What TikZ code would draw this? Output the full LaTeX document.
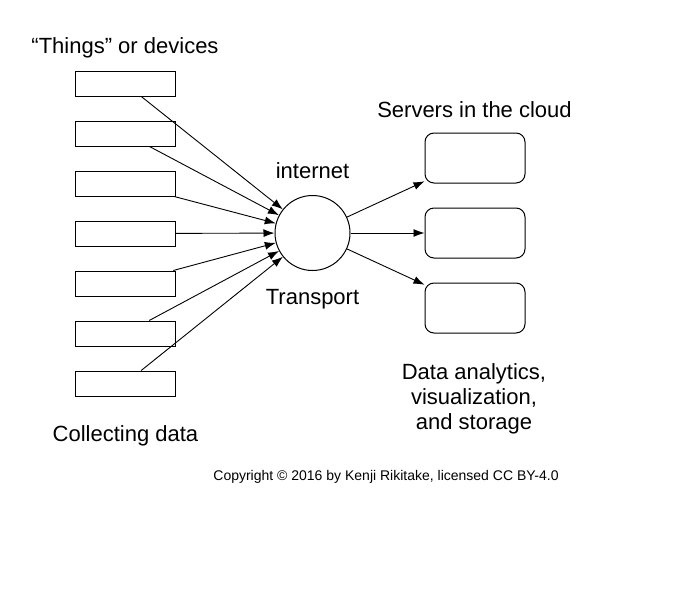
\documentclass[tikz,border=0pt]{standalone}
\usepackage{fontspec}
\setmainfont{Liberation Sans}
\usetikzlibrary{positioning}
\usetikzlibrary{arrows.meta}

\begin{document}
\begin{tikzpicture}[x=1pt, y=-1pt]
  \tikzstyle{device}=[rectangle, minimum width = 100pt, minimum height = 25pt, line width = 1pt, draw = black, node distance = 50pt]
  \tikzstyle{server}=[rectangle, rounded corners = 9pt, minimum width = 100pt, minimum height = 50pt, line width = 1pt, draw = black, node distance = 75pt]
  \tikzstyle{hub}=[circle, minimum size = 75pt, inner sep = 0pt, line width = 1pt, draw = black]
  \tikzstyle{connect}=[-{Latex[length = 11pt, width = 8pt]}, line width = 0.9pt]
  \tikzstyle{txt}=[font = \fontsize{22}{25}\selectfont, align = center, anchor = base, inner sep = 0pt]
  \tikzstyle{note}=[font = \fontsize{14}{16}\selectfont, anchor = base, inner sep = 0pt]

  \useasboundingbox (0,0) rectangle (681,590);

  \node[device] (d1) at (125,83.5) {};
  \node[device] (d2) [below of = d1] {};
  \node[device] (d3) [below of = d2] {};
  \node[device] (d4) [below of = d3] {};
  \node[device] (d5) [below of = d4] {};
  \node[device] (d6) [below of = d5] {};
  \node[device] (d7) [below of = d6] {};

  \node[hub] (net) at (312.5,233) {};

  \node[server] (s1) at (475,158) {};
  \node[server] (s2) [below of = s1] {};
  \node[server] (s3) [below of = s2] {};

  \path (d1) edge [connect] (net)
        (d2) edge [connect] (net)
        (d3) edge [connect] (net)
        (d4) edge [connect] (net)
        (d5) edge [connect] (net)
        (d6) edge [connect] (net)
        (d7) edge [connect] (net);

  \path (net) edge [connect] (s1)
        (net) edge [connect] (s2)
        (net) edge [connect] (s3);

  \node[txt] (things) at (125,53.5) {“Things” or devices};
  \node[txt] (collect) at (125.5,441.5) {Collecting data};
  \node[txt] (inet) at (312.5,178.5) {internet};
  \node[txt] (transport) at (312.5,304) {Transport};
  \node[txt] (cloud) at (474.5,117.5) {Servers in the cloud};
  \node[txt, anchor = north] (analytics) at (474,363.5) {Data analytics,\\visualization,\\and storage};
  \node[note] (copy) at (386,480) {Copyright © 2016 by Kenji Rikitake, licensed CC BY-4.0};

\end{tikzpicture}
\end{document}
